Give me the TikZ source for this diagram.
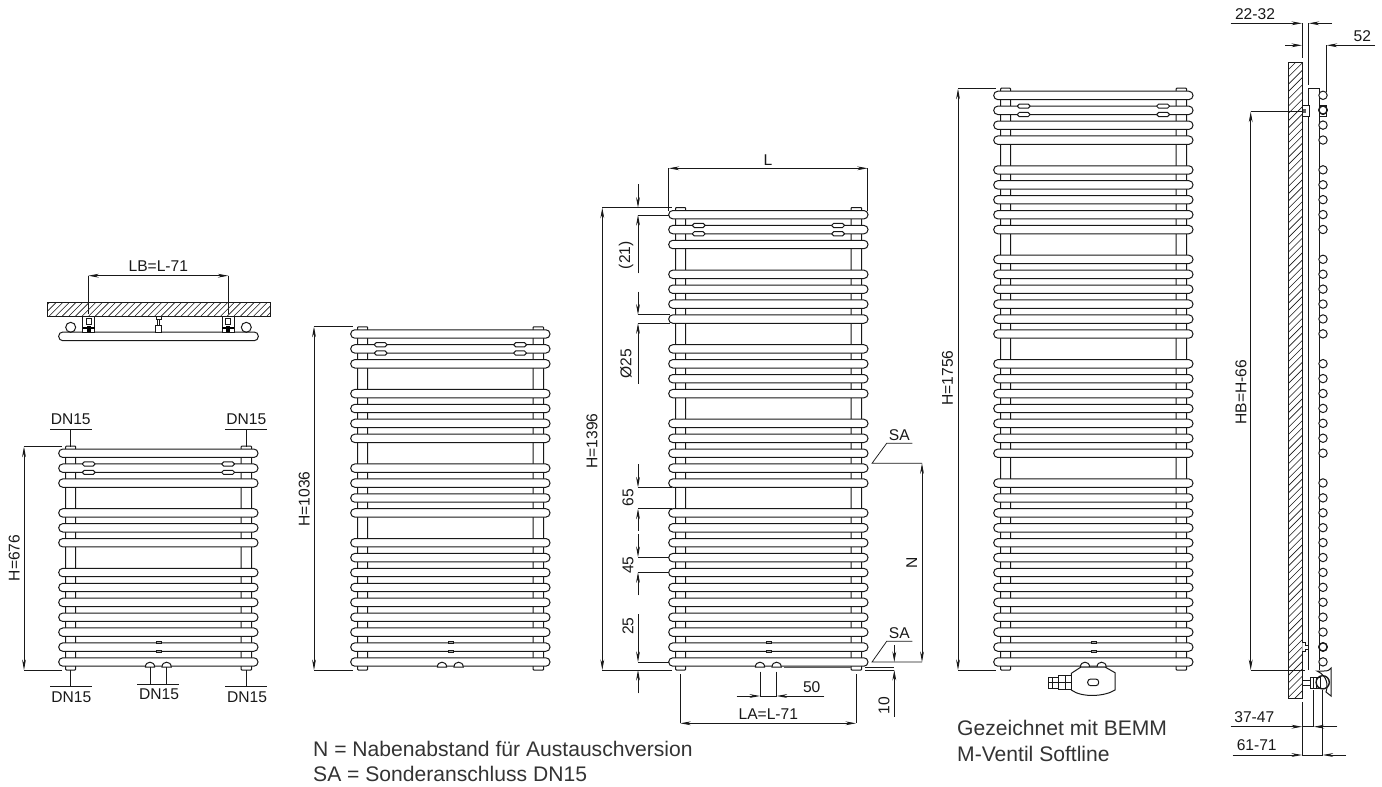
\documentclass[tikz,border=0pt]{standalone}
\usepackage{fontspec}
\setmainfont{Liberation Sans}
\usetikzlibrary{arrows.meta}
\definecolor{ink}{gray}{0.1}
\tikzset{
  x=1pt,y=-1pt,
  line/.style={draw=ink,line width=1pt},
  thin line/.style={draw=ink,line width=0.75pt},
  bar/.style={line,fill=white,rounded corners=4.1pt},
  dimone/.style={thin line,-{Stealth[length=10.5pt,width=3.8pt]}},
  dimtwo/.style={thin line,{Stealth[length=10.5pt,width=3.8pt]}-{Stealth[length=10.5pt,width=3.8pt]}},
  lab/.style={font=\fontsize{15.6pt}{18pt}\selectfont,text=ink,inner sep=0pt},
  vlab/.style={lab,rotate=90},
  note/.style={font=\fontsize{21.1pt}{25pt}\selectfont,text=black!80,inner sep=0pt,anchor=base west}
}
% bar left x, number K of the lowest bar, list of bar indices
\newcommand{\radi}[3]{%
  \pgfmathsetmacro{\yz}{662-14.91*#2}
  \pgfmathsetmacro{\xa}{#1+6.9}\pgfmathsetmacro{\xb}{#1+17}
  \pgfmathsetmacro{\xc}{#1+182.4}\pgfmathsetmacro{\xd}{#1+192.9}
  \pgfmathsetmacro{\yt}{\yz-7.2}\pgfmathsetmacro{\ytb}{\yz-5}
  \draw[line,fill=white,rounded corners=0.8pt] (\xa,\yt) rectangle (\xb,670);
  \draw[line,fill=white,rounded corners=0.8pt] (\xc,\yt) rectangle (\xd,670);
  \foreach \k in {#3}{
    \pgfmathsetmacro{\yb}{\yz+14.91*\k}
    \draw[bar] (#1,\yb-4.2) rectangle (#1+199.3,\yb+4.2);
  }
  % towel-bar brackets on the second bar
  \pgfmathsetmacro{\yc}{\yz+14.91}
  \foreach \off in {23.8,163.2}{
    \foreach \s in {-4.2,4.2}{
      \draw[line,fill=white,rounded corners=1.8pt] (#1+\off,\yc+\s-2.1) rectangle (#1+\off+12.4,\yc+\s+2.1);
    }
  }
  % small centre marks on the next to last bar
  \foreach \s in {-4.5,4.5}{
    \draw[thin line,fill=black!35] (#1+97.2,647.1+\s-1.1) rectangle (#1+102.2,647.1+\s+1.1);
  }
  % domes of the valves
  \foreach \off in {91.3,107.9}{
    \draw[line,fill=white] (#1+\off-4.6,667) .. controls (#1+\off-4.6,660.6) and (#1+\off+4.6,660.6) .. (#1+\off+4.6,667) -- cycle;
  }
}
\begin{document}
\begin{tikzpicture}
\useasboundingbox (0,0) rectangle (1382,787);

% ---------- top view ----------
\begin{scope}
  \clip (47.3,302.3) rectangle (270,316);
  \foreach \i in {0,...,36}{
    \draw[thin line,line width=0.6pt] (36+\i*6.6,316) -- (50+\i*6.6,302);
  }
\end{scope}
\draw[line] (47.3,302.3) rectangle (270,316);
\draw[bar] (58.7,332) rectangle (258.3,340.7);
\draw[line] (70.7,327.3) circle[radius=5];
\draw[line] (246.3,327.3) circle[radius=5];
\foreach \xx in {82.7,222.2}{
  \draw[line,fill=white] (\xx,316) rectangle (\xx+12,332);
  \draw[thin line] (\xx+3.6,318.5) rectangle (\xx+8.4,324);
  \fill[black] (\xx,327) rectangle (\xx+12,329.2);
  \fill[black] (\xx+3.8,325.5) rectangle (\xx+8.2,331.5);
}
\draw[thin line,fill=white] (156,316) rectangle (161,319);
\draw[thin line] (157.4,319) -- (157.4,325) (159.6,319) -- (159.6,325);
\draw[line,fill=white] (155.6,325) rectangle (161.4,332);
\draw[thin line] (88.3,275.7) -- (88.3,314) (228.3,275.7) -- (228.3,314);
\draw[dimtwo] (88.3,275.7) -- (228.3,275.7);
\node[lab] (lb) at (158.3,266) {LB=L-71};

% ---------- radiators ----------
\radi{58.7}{14}{0,1,2,4,5,6,8,9,10,11,12,13,14}
\radi{350.7}{22}{0,1,2,4,5,6,7,9,10,11,12,14,15,16,17,18,19,20,21,22}
\radi{668.7}{30}{0,1,2,4,5,6,7,9,10,11,12,14,15,16,17,18,20,21,22,23,24,25,26,27,28,29,30}
\radi{993.7}{38}{0,1,2,3,5,6,7,8,9,11,12,13,14,15,16,18,19,20,21,22,23,24,26,27,28,29,30,31,32,33,34,35,36,37,38}

% ---------- first radiator dimensions ----------
\draw[thin line] (50,429.7) -- (91.7,429.7) (70.7,429.7) -- (70.7,446.7);
\draw[thin line] (225.3,429.7) -- (267,429.7) (246.3,429.7) -- (246.3,446.7);
\draw[thin line] (50,686.7) -- (91.7,686.7) (70.7,670) -- (70.7,686.7);
\draw[thin line] (225.3,686.7) -- (267,686.7) (246.3,670) -- (246.3,686.7);
\draw[thin line] (137.3,684) -- (179.3,684) (150,667) -- (150,684) (166.6,667) -- (166.6,684);
\node[lab] (dn1) at (70.7,419) {DN15};
\node[lab] (dn2) at (246.3,419) {DN15};
\node[lab] (dn3) at (71.3,697.2) {DN15};
\node[lab] (dn4) at (247,697.2) {DN15};
\node[lab] (dn5) at (159,694.5) {DN15};
\draw[thin line] (24,446.7) -- (62,446.7) (24,670) -- (62,670);
\draw[dimtwo] (24,446.7) -- (24,670);
\node[vlab] (h1) at (14.3,558) {H=676};

% ---------- second radiator dimensions ----------
\draw[thin line] (314,326.7) -- (353,326.7) (314,670) -- (353,670);
\draw[dimtwo] (314,326.7) -- (314,670);
\node[vlab] (h2) at (304.3,499) {H=1036};

% ---------- third radiator dimensions ----------
\draw[thin line] (602.3,207.7) -- (671.7,207.7) (602.3,670) -- (671.7,670);
\draw[dimtwo] (602.3,207.7) -- (602.3,670);
\node[vlab] (h3) at (592,441) {H=1396};
\draw[thin line] (668.7,168.3) -- (668.7,211) (867.7,168.3) -- (867.7,211);
\draw[dimtwo] (668.7,168.3) -- (867.7,168.3);
\node[lab] (ll) at (768,160) {L};

\draw[thin line] (638,207.7) -- (670,207.7) (638,215) -- (669,215);
\draw[dimone] (638,184.3) -- (638,207.7);
\draw[dimone] (638,273.3) -- (638,215);
\node[vlab] (d21) at (626,255.3) {(21)};

\draw[thin line] (638,314.7) -- (670,314.7) (638,323.3) -- (670,323.3);
\draw[dimone] (638,291.7) -- (638,314.7);
\draw[dimone] (638,383.7) -- (638,323.3);
\node[vlab] (d25) at (626,364) {Ø25};

\draw[thin line] (638,487.3) -- (672,487.3) (638,508.7) -- (672,508.7);
\draw[dimone] (638,464) -- (638,487.3);
\draw[dimone] (638,530.7) -- (638,508.7);
\node[vlab] (d65) at (628,497.7) {65};

\draw[thin line] (638,557) -- (669,557) (638,572.3) -- (669,572.3);
\draw[dimone] (638,534) -- (638,557);
\draw[dimone] (638,595.3) -- (638,572.3);
\node[vlab] (d45) at (628,565) {45};

\draw[thin line] (638,662) -- (669,662);
\draw[dimone] (638,614) -- (638,662);
\draw[dimone] (638,693.3) -- (638,670);
\node[vlab] (d25b) at (628,626) {25};

\draw[thin line] (912.3,443.3) -- (886.7,443.3) -- (872,463.3) -- (922,463.3);
\draw[thin line] (912.3,641.3) -- (886.7,641.3) -- (872,662) -- (922,662);
\draw[dimtwo] (922,463.3) -- (922,662);
\node[lab] (sa1) at (899.3,435) {SA};
\node[lab] (sa2) at (899.3,633.3) {SA};
\node[vlab] (nn) at (911.7,562.7) {N};

\draw[line,draw=ink!70] (784,667.3) -- (851,667.3);
\draw[thin line] (865,667.3) -- (894.3,667.3) (865,670) -- (894.3,670);
\draw[dimone] (894.3,645) -- (894.3,662);
\draw[dimone] (894.3,716.7) -- (894.3,670);
\node[vlab] (d10) at (884,705.7) {10};

\draw[thin line] (760,671.7) -- (760,696) (776.7,671.7) -- (776.7,696) (760,696) -- (776.7,696);
\draw[dimone] (736.7,696) -- (760,696);
\draw[dimone] (824.3,696) -- (776.7,696);
\node[lab] (d50) at (811.7,686.7) {50};

\draw[thin line] (680.3,674.3) -- (680.3,723.3) (856,674.3) -- (856,723.3);
\draw[dimtwo] (680.3,723.3) -- (856,723.3);
\node[lab] (la) at (768.3,714) {LA=L-71};

% ---------- fourth radiator ----------
\draw[thin line] (958,88.7) -- (996,88.7) (958,670) -- (996,670);
\draw[dimtwo] (958,88.7) -- (958,670);
\node[vlab] (h4) at (947.5,378) {H=1756};
% valve
\draw[line,fill=white] (1071.3,673.3) -- (1081,667) -- (1105,667) -- (1115,672.7) -- (1115,690)
  .. controls (1105,696.5) and (1082,698) .. (1071.3,690) -- cycle;
\draw[line,rounded corners=3pt] (1087.7,679) rectangle (1098.7,685.7);
\draw[line,line width=1.5pt,fill=white] (1058.7,675.3) rectangle (1071.3,689.3);
\draw[thin line] (1065,675.3) -- (1065,689.3) (1058.7,682.3) -- (1071.3,682.3);
\draw[line,fill=white] (1048.3,677.3) rectangle (1058.7,688);
\draw[thin line] (1052,677.3) -- (1052,688) (1048.3,682.6) -- (1058.7,682.6);

% ---------- side view ----------
\begin{scope}
  \clip (1288.7,62.3) rectangle (1302.3,698.7);
  \foreach \i in {0,...,90}{
    \draw[thin line,line width=0.6pt] (1288.7,62+\i*7.3) -- (1302.3,48.4+\i*7.3);
  }
\end{scope}
\draw[line] (1288.7,62.3) rectangle (1302.3,698.7);
\draw[line] (1308.7,670) -- (1308.7,88.3) -- (1319,88.3) -- (1319,670);
\foreach \k in {0,1,2,3,5,6,7,8,9,11,12,13,14,15,16,18,19,20,21,22,23,24,26,27,28,29,30,31,32,33,34,35,36,37,38}{
  \draw[line,fill=white] (1323,95.3+14.91*\k) circle[radius=4.2];
}
\draw[line] (1319,105) -- (1326.7,105) -- (1326.7,116) -- (1319,116);
\draw[line,line width=1.4pt] (1323,110) circle[radius=4.2];
\draw[thin line,fill=white] (1302.3,105) rectangle (1309,116.7);
\fill[ink!70] (1302.5,108.5) rectangle (1306,113);
\draw[line,line width=1.4pt] (1323,647) circle[radius=4.2];
\draw[thin line,fill=white] (1302.3,642.5) -- (1305,642.5) -- (1305,645) -- (1308,645) -- (1308,649) -- (1305,649) -- (1305,651) -- (1302.3,651);
% side view valve
\draw[line,fill=white] (1317,671) -- (1324,671) .. controls (1328,671) and (1330,670) .. (1331,668)
  -- (1331,696) -- (1326,692) .. controls (1328,686) and (1328,676) .. (1317,671) -- cycle;
\draw[line,fill=white] (1302.3,680) rectangle (1310,685);
\draw[line,fill=white] (1310,677) rectangle (1320,688);
\draw[thin line] (1313,677) -- (1313,688) (1316.5,677) -- (1316.5,688);
\draw[line,line width=1.4pt] (1322.7,682.3) circle[radius=6.6];

\draw[thin line] (1302,23.3) -- (1302,58) (1308.7,23.3) -- (1308.7,85);
\draw[dimone] (1230.7,23.3) -- (1302,23.3);
\draw[dimone] (1332,23.3) -- (1308.7,23.3);
\node[lab] (w1) at (1255,14.3) {22-32};
\draw[thin line] (1326.7,45.3) -- (1326.7,91.7);
\draw[dimone] (1285.3,45.3) -- (1302,45.3);
\draw[dimone] (1375,45.3) -- (1326.7,45.3);
\node[lab] (w2) at (1362.3,36) {52};

\draw[thin line] (1250.7,111.7) -- (1302,111.7) (1250.7,670) -- (1305,670);
\draw[dimtwo] (1250.7,111.7) -- (1250.7,670);
\node[vlab] (hb) at (1241,392) {HB=H-66};

\draw[thin line] (1302,702.3) -- (1302,755) (1313.7,690) -- (1313.7,726.7) (1322.7,690) -- (1322.7,755) (1302,726.7) -- (1313.7,726.7) (1302,755) -- (1322.7,755);
\draw[dimone] (1230.7,726.7) -- (1302,726.7);
\draw[dimone] (1337.3,726.7) -- (1313.7,726.7);
\node[lab] (w3) at (1254.3,717.3) {37-47};
\draw[dimone] (1232.7,755) -- (1302,755);
\draw[dimone] (1346,755) -- (1322.7,755);
\node[lab] (w4) at (1256.7,745.3) {61-71};

% ---------- notes ----------
\node[note] (n1) at (313,756.7) {N = Nabenabstand für Austauschversion};
\node[note] (n2) at (313,781.7) {SA = Sonderanschluss DN15};
\node[note] (n3) at (957,735.5) {Gezeichnet mit BEMM};
\node[note] (n4) at (957,761) {M-Ventil Softline};
\end{tikzpicture}
\end{document}
